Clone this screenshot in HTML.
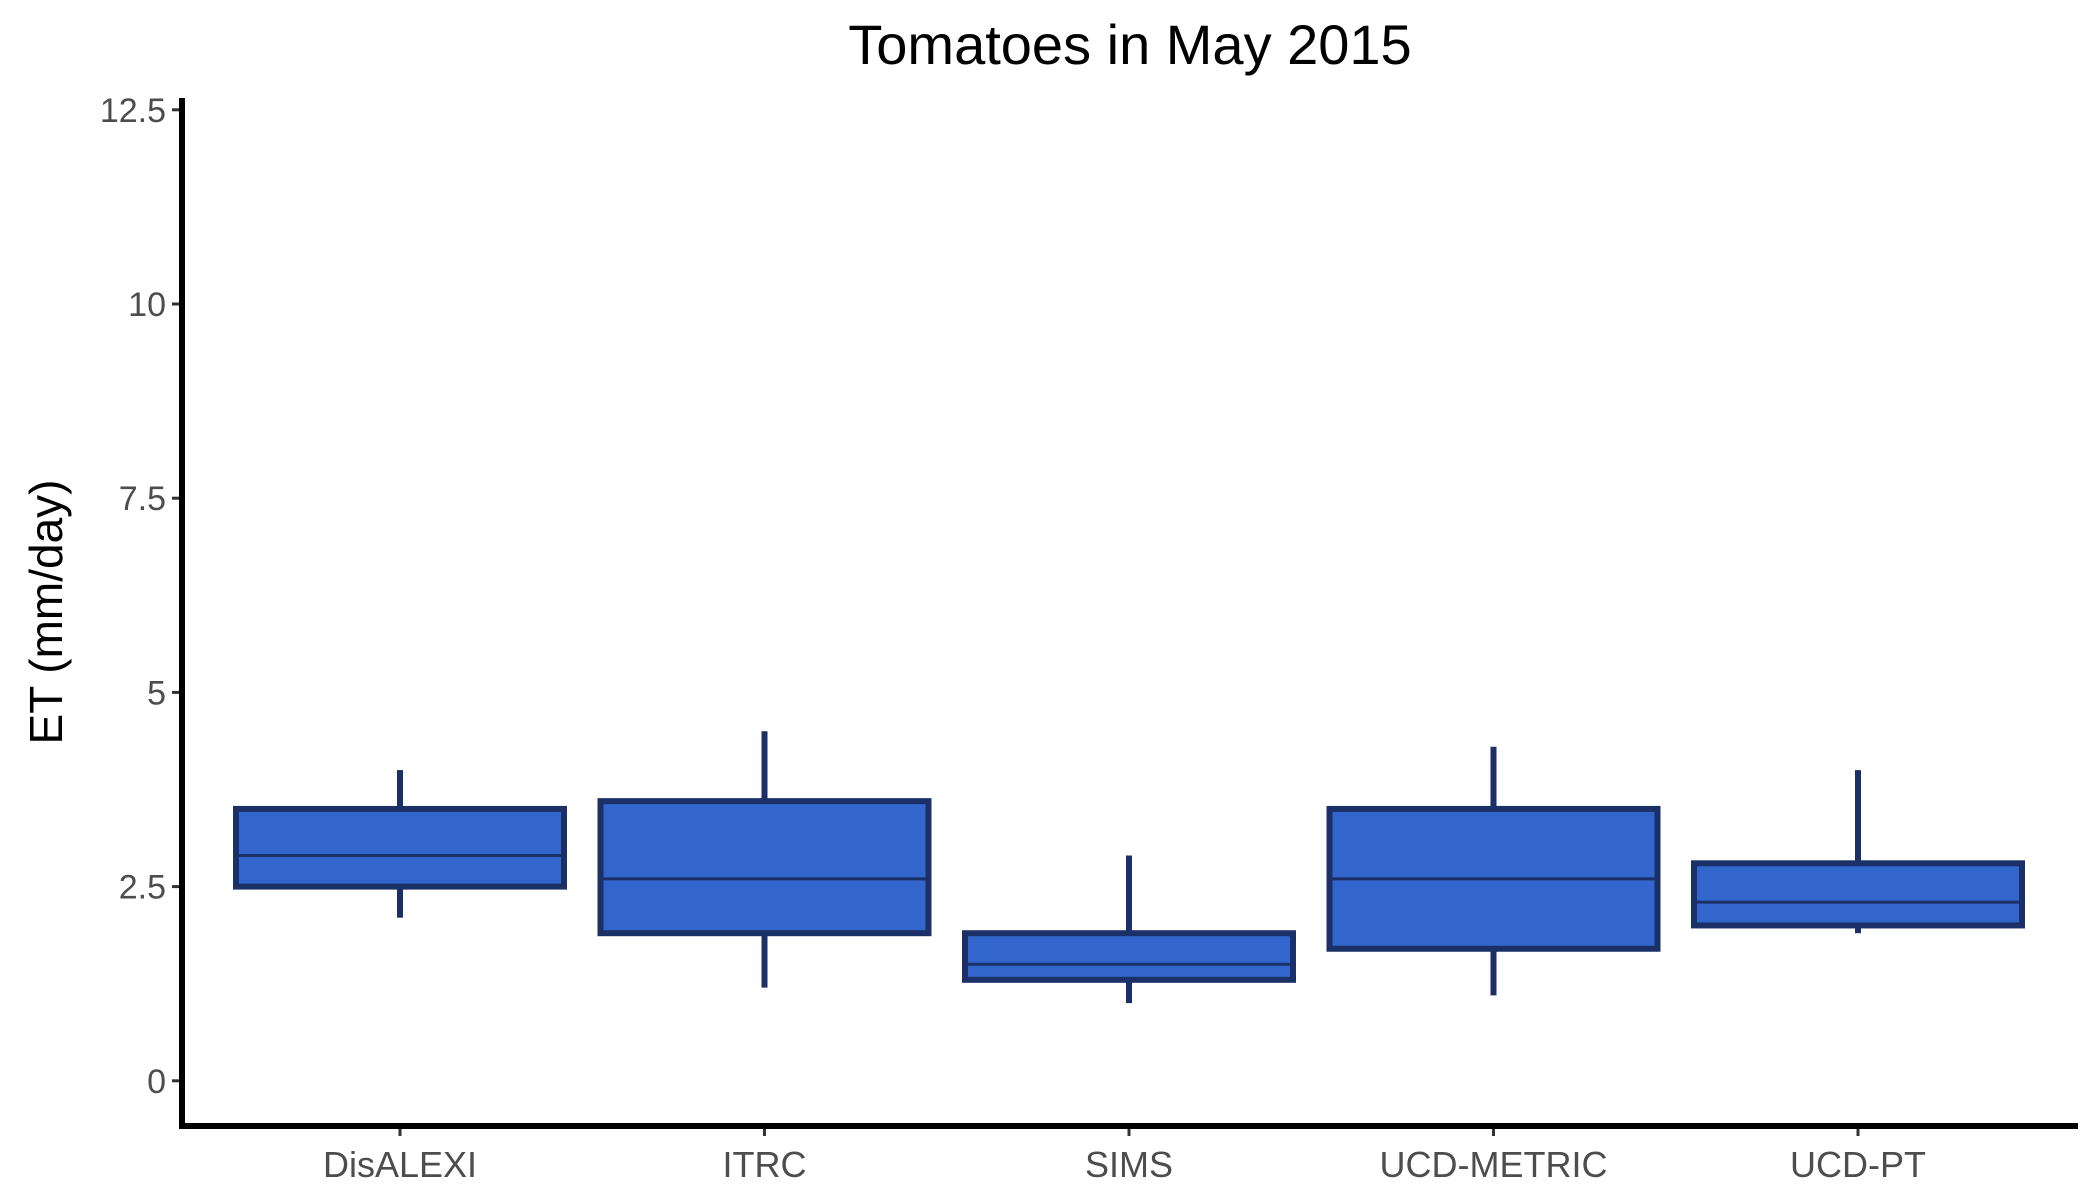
<!DOCTYPE html>
<html><head><meta charset="utf-8"><style>
body{margin:0;background:#fff}
svg{display:block;font-family:"Liberation Sans",sans-serif}
</style></head><body>
<svg id="chart" width="2100" height="1200" xmlns="http://www.w3.org/2000/svg">
<text x="1130" y="64" text-anchor="middle" font-size="56" fill="#000">Tomatoes in May 2015</text>
<text transform="translate(62,612) rotate(-90)" text-anchor="middle" font-size="46" fill="#000">ET (mm/day)</text>
<g id="plot"></g>
</svg>
<script>
const categories=["DisALEXI","ITRC","SIMS","UCD-METRIC","UCD-PT"];
const whiskerLow=[2.1,1.2,1.0,1.1,1.9];
const q1=[2.5,1.9,1.3,1.7,2.0];
const median=[2.9,2.6,1.5,2.6,2.3];
const q3=[3.5,3.6,1.9,3.5,2.8];
const whiskerHigh=[4.0,4.5,2.9,4.3,4.0];
const yTicks=[0,2.5,5,7.5,10,12.5];
const yTickLabels=["0","2.5","5","7.5","10","12.5"];

const NS="http://www.w3.org/2000/svg";
const g=document.getElementById('plot');
const axX=182, axY=1126, right=2078;
function y(v){return 1080.8-v*(1080.8-109.8)/12.5;}
function mk(tag,attrs){const e=document.createElementNS(NS,tag);for(const k in attrs)e.setAttribute(k,attrs[k]);g.appendChild(e);return e;}
function cxOf(i){return 400+i*364.5;}
categories.forEach((c,i)=>{
  const cx=cxOf(i);
  let e=mk('line',{x1:cx,x2:cx,y1:y(whiskerHigh[i]),y2:y(q3[i]),stroke:'#1a3066','stroke-width':6});
  
  
  e=mk('line',{x1:cx,x2:cx,y1:y(q1[i]),y2:y(whiskerLow[i]),stroke:'#1a3066','stroke-width':6});
  
  
  e=mk('rect',{x:cx-164,y:y(q3[i]),width:328,height:y(q1[i])-y(q3[i]),fill:'#3366cc',stroke:'#1a3066','stroke-width':6});
  
  
  e=mk('line',{x1:cx-164,x2:cx+164,y1:y(median[i]),y2:y(median[i]),stroke:'#1a3066','stroke-width':3});
  
  
  e=mk('line',{x1:cx,x2:cx,y1:axY,y2:axY+10,stroke:'#333','stroke-width':3});
  
  
  e=mk('text',{x:cx,y:1177,'text-anchor':'middle','font-size':36,fill:'#4d4d4d'});
  e.textContent=c;
  
  
});
yTicks.forEach((v,i)=>{
  let e=mk('line',{x1:axX-10,x2:axX,y1:y(v),y2:y(v),stroke:'#333','stroke-width':3});
  
  
  e=mk('text',{x:axX-16,y:y(v)+12,'text-anchor':'end','font-size':34,fill:'#4d4d4d'});
  e.textContent=yTickLabels[i];
  
  
});
let a=mk('line',{x1:axX,x2:axX,y1:98,y2:axY+3,stroke:'#000','stroke-width':6});


a=mk('line',{x1:axX-3,x2:right,y1:axY,y2:axY,stroke:'#000','stroke-width':6});


</script>
</body></html>
